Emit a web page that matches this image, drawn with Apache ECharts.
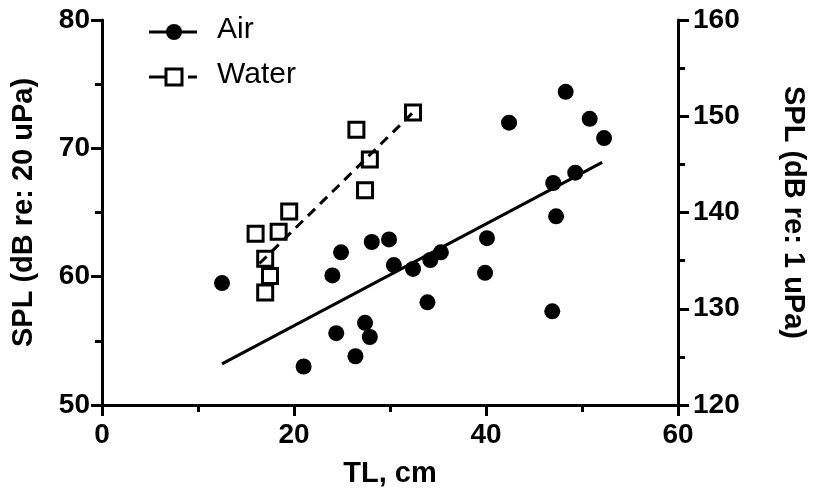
<!DOCTYPE html>
<html>
<head>
<meta charset="utf-8">
<script src="https://cdn.jsdelivr.net/npm/echarts@6/dist/echarts.min.js"></script>
<style>
  html, body { margin: 0; padding: 0; background: #fff; }
  #chart { width: 815px; height: 496px; }
</style>
</head>
<body>
<div id="chart"></div>
<script>
// Air points (TL cm, SPL dB re 20 uPa) - left axis
const airTL = [12.5, 21.0, 24.0, 24.9, 24.4, 26.4, 27.4, 27.9, 28.1, 29.9, 30.4, 32.4, 33.9,
  34.2, 35.3, 40.1, 39.9, 42.4, 48.3, 50.8, 52.3, 49.3, 47.0, 47.3, 46.9]
const airSPL = [59.5, 53.0, 60.1, 61.9, 55.6, 53.8, 56.4, 55.3, 62.7, 62.9, 60.9, 60.6, 58.0,
  61.3, 61.9, 63.0, 60.3, 72.0, 74.4, 72.3, 70.8, 68.1, 67.3, 64.7, 57.3]
// Water points (TL cm, SPL dB re 1 uPa) - right axis
const waterTL = [16.0, 17.0, 17.5, 17.0, 18.4, 19.5, 26.5, 27.4, 27.9, 32.4]
const waterSPL = [137.8, 135.2, 133.4, 131.7, 138.0, 140.1, 148.6, 142.3, 145.5, 150.4]
// fitted line ends
const airFitTL = [12.5, 52.1]
const airFitSPL = [53.2, 68.9]
const waterFitTL = [16.4, 32.4]
const waterFitSPL = [134.7, 150.4]
// axis ticks
const xTicks = [0, 60, 20]
const leftTicks = [50, 80, 10]
const rightTicks = [120, 160, 10]

const zip = (a, b) => a.map((v, i) => [v, b[i]])
const font = 'Liberation Sans, Arial, sans-serif'

const chart = echarts.init(document.getElementById('chart'))

const axisCommon = {
  axisLine: { show: true, onZero: false, lineStyle: { color: '#000', width: 3 } },
  axisTick: { show: true, length: 11, lineStyle: { color: '#000', width: 3 } },
  minorTick: { show: true, splitNumber: 2, length: 7, lineStyle: { color: '#000', width: 3 } },
  splitLine: { show: false },
  minorSplitLine: { show: false },
  nameTextStyle: { fontFamily: font, fontWeight: 'bold', fontSize: 29, color: '#000' },
  nameLocation: 'middle'
}

const option = {
  animation: false,
  backgroundColor: '#fff',
  grid: { left: 102, right: 133, top: 20, bottom: 91 },
  xAxis: Object.assign({}, axisCommon, {
    type: 'value',
    min: xTicks[0], max: xTicks[1], interval: xTicks[2],
    name: 'TL, cm',
    nameGap: 54,
    axisLabel: { fontFamily: font, fontWeight: 'bold', fontSize: 28, color: '#000', margin: 16 }
  }),
  yAxis: [
    Object.assign({}, axisCommon, {
      type: 'value',
      position: 'left',
      min: leftTicks[0], max: leftTicks[1], interval: leftTicks[2],
      name: 'SPL (dB re: 20 uPa)',
      nameRotate: 90,
      nameGap: 64,
      axisLabel: { fontFamily: font, fontWeight: 'bold', fontSize: 28, color: '#000', margin: 12 }
    }),
    Object.assign({}, axisCommon, {
      type: 'value',
      position: 'right',
      min: rightTicks[0], max: rightTicks[1], interval: rightTicks[2],
      name: 'SPL (dB re: 1 uPa)',
      nameRotate: -90,
      nameGap: 100,
      axisLabel: { fontFamily: font, fontWeight: 'bold', fontSize: 28, color: '#000', margin: 15 }
    })
  ],
  series: [
    {
      name: 'Air fit',
      type: 'line',
      data: zip(airFitTL, airFitSPL),
      symbol: 'none',
      lineStyle: { color: '#000', width: 3 },
      z: 2
    },
    {
      name: 'Water fit',
      type: 'line',
      yAxisIndex: 1,
      data: zip(waterFitTL, waterFitSPL),
      symbol: 'none',
      lineStyle: { color: '#000', width: 3, type: [10, 7] },
      z: 2
    },
    {
      name: 'Air',
      type: 'scatter',
      data: zip(airTL, airSPL),
      symbol: 'circle',
      symbolSize: 16,
      itemStyle: { color: '#000', opacity: 1 },
      z: 3
    },
    {
      name: 'Water',
      type: 'scatter',
      yAxisIndex: 1,
      data: zip(waterTL, waterSPL),
      symbol: 'rect',
      symbolSize: 15,
      itemStyle: { color: 'rgba(0,0,0,0)', borderColor: '#000', borderWidth: 3, opacity: 1 },
      z: 3
    }
  ],
  // 图例手工画
  graphic: [
    { type: 'line', shape: { x1: 149, y1: 32, x2: 197, y2: 32 }, style: { stroke: '#000', lineWidth: 3 } },
    { type: 'circle', shape: { cx: 174, cy: 32, r: 8 }, style: { fill: '#000' } },
    { type: 'text', left: 217, top: 15, style: { text: 'Air', font: '30px ' + font, fill: '#000' } },
    { type: 'line', shape: { x1: 149, y1: 77, x2: 165, y2: 77 }, style: { stroke: '#000', lineWidth: 3 } },
    { type: 'line', shape: { x1: 188, y1: 77, x2: 197, y2: 77 }, style: { stroke: '#000', lineWidth: 3 } },
    { type: 'rect', shape: { x: 166, y: 69, width: 16, height: 16 }, style: { fill: 'rgba(0,0,0,0)', stroke: '#000', lineWidth: 3 } },
    { type: 'text', left: 217, top: 60, style: { text: 'Water', font: '30px ' + font, fill: '#000' } }
  ]
}

chart.setOption(option)
</script>
</body>
</html>
